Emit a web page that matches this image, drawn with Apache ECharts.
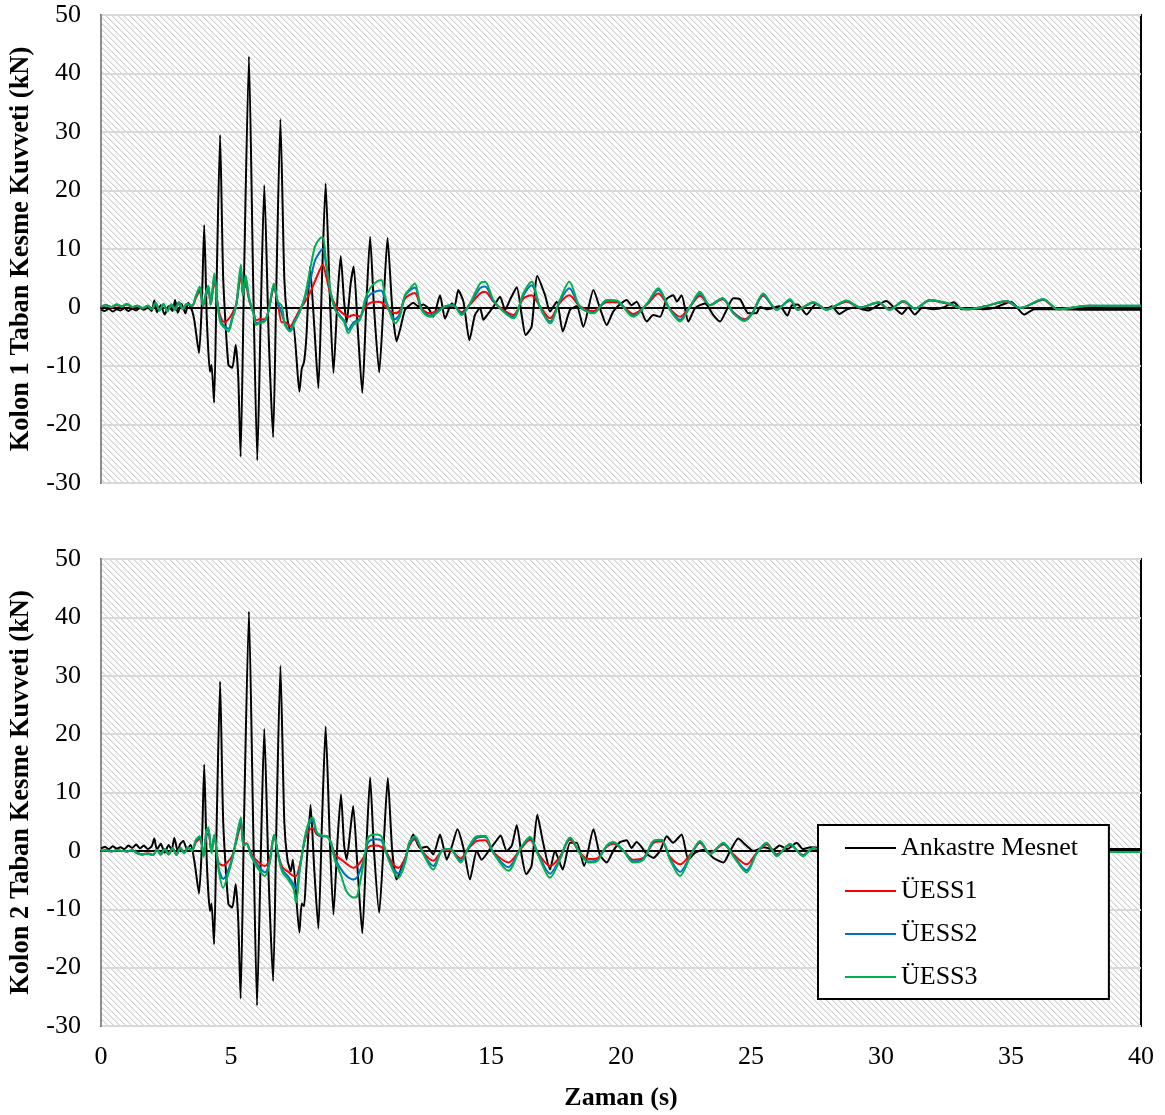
<!DOCTYPE html>
<html>
<head>
<meta charset="utf-8">
<script src="https://cdn.jsdelivr.net/npm/echarts@6/dist/echarts.min.js"></script>
<style>
  html, body { margin: 0; padding: 0; background: #fff; }
  #chart { width: 1165px; height: 1115px; }
</style>
</head>
<body>
<div id="chart"></div>
<script>
// ---- Time (s) and base shear (kN) records ----
const SERIES_NAMES = ['Ankastre Mesnet', 'ÜESS1', 'ÜESS2', 'ÜESS3'];
const Y_TITLES = ['Kolon 1 Taban Kesme Kuvveti (kN)', 'Kolon 2 Taban Kesme Kuvveti (kN)'];
const X_TITLE = 'Zaman (s)';

// Kolon 1 — fixed base
const fixed1T = [0,0.15,0.3,0.45,0.6,0.75,0.9,1.05,1.2,1.35,1.5,1.65,1.8,1.95,2.05,2.15,2.3,2.45,2.6,2.75,2.85,2.95,3.1,3.25,3.35,3.5,3.6,3.77,3.88,3.97,4.07,4.19,4.25,4.35,4.45,4.58,4.7,4.9,5.05,5.18,5.28,5.37,5.5,5.69,5.85,6.01,6.15,6.28,6.45,6.62,6.75,6.9,7.05,7.17,7.3,7.4,7.63,7.72,7.81,7.9,8.04,8.2,8.36,8.5,8.64,8.8,8.94,9.1,9.22,9.35,9.45,9.6,9.72,9.88,10.05,10.2,10.35,10.5,10.7,10.87,11.02,11.2,11.37,11.5,11.69,11.85,12.01,12.2,12.4,12.59,12.78,13.04,13.23,13.49,13.6,13.74,13.94,14.17,14.38,14.58,14.71,14.9,15.09,15.35,15.54,15.73,15.99,16.18,16.33,16.56,16.78,17.08,17.27,17.53,17.76,18.04,18.3,18.55,18.94,19.19,19.45,19.7,19.95,20.22,20.4,20.6,20.99,21.24,21.5,21.76,22.01,22.15,22.33,22.59,22.85,23.23,23.55,23.81,24.05,24.32,24.58,24.9,25.2,25.35,25.6,26.1,26.4,26.56,26.8,27.14,27.5,27.9,28.1,28.4,28.7,29,29.5,30.2,30.5,30.8,31.05,31.3,31.6,32,32.4,32.8,33.1,33.6,34,34.4,35,35.5,35.9,36.4,37,38,39,40];
const fixed1V = [-0.3,-0.6,-0.2,-0.7,-0.3,-0.5,-0.1,-0.6,-0.2,-0.5,-0.1,-0.4,0,-0.6,1.2,-0.8,0.4,-1.2,0.2,-0.6,1.3,-0.9,0.6,-1,0.8,-0.5,-2.5,-7.8,1,14.1,-2,-11,-9.8,-16.3,5,29.5,5,-9.8,-10.3,-6.4,-12,-25.5,5,42.9,5,-26.1,0,20.9,-5,-22.2,5,32.2,5,-2,-4,-3,-14.4,-10.5,-9.3,-5,7,-3,-13.8,5,21.2,2,-11.2,2,8.8,1,-2.5,4,7,-4,-14.6,0,12.1,0,-11.1,1,11.9,0,-5.8,-3.8,-0.4,0.3,0.8,0.2,0.5,-0.1,-1.6,2.1,-1.9,0.7,0.2,3,1,-5.6,-1.3,-0.1,-2.1,-1,0.1,1.85,-0.4,1.3,3.45,-1.3,-4.7,-3.3,5.4,2.1,-0.7,1,-4.1,-0.4,0.2,-3.3,3,-0.1,-3,-0.7,0.5,1.3,0.4,1,-2.4,-1.3,-1.6,1.5,2.1,1,2.1,-2.4,-0.1,0.7,-1.3,-2.4,-0.5,1.6,1.4,-1,-1,0.1,-0.3,0.2,-1.4,0.3,0.5,-1.2,0.6,-0.3,0.2,-1.1,-0.3,0,-0.5,1.1,0,-1.1,0,-1.2,0,-0.3,0,0.9,-0.3,-0.2,-0.3,0,1,-1.2,-0.3,-0.3,-0.3,-0.4,-0.4,-0.4];

// Kolon 1 — isolated bases (shared time steps)
const iso1T = [0,0.2,0.4,0.6,0.8,1,1.2,1.4,1.6,1.8,1.95,2.1,2.25,2.4,2.55,2.7,2.85,3,3.15,3.3,3.5,3.65,3.8,3.92,4.05,4.13,4.22,4.36,4.48,4.6,4.75,4.9,5.05,5.2,5.38,5.46,5.56,5.7,5.88,5.96,6.1,6.3,6.45,6.65,6.8,6.95,7.08,7.27,7.45,7.65,7.85,8.04,8.23,8.42,8.53,8.65,8.81,9,9.19,9.35,9.51,9.7,9.96,10.15,10.35,10.6,10.78,10.92,11.12,11.31,11.5,11.69,11.88,12.07,12.33,12.65,12.9,13.23,13.55,13.87,14.19,14.58,14.77,15.09,15.47,15.86,16.24,16.56,16.88,17.27,17.65,18.01,18.42,18.94,19.45,19.83,20.47,21,21.43,21.88,22.27,22.65,23.04,23.42,23.9,24.32,24.75,25.05,25.47,25.99,26.5,26.8,27.4,27.9,28.68,29.2,29.9,30.33,30.86,31.3,31.88,32.5,33.3,34,34.83,35.35,36.24,36.8,37.4,38,39,40];
const iso1R = [0.1,0.4,0,0.4,0.1,0.5,0,0.3,-0.2,0.3,-0.3,0.7,-0.4,0.5,-0.6,0.4,-0.3,0.8,-0.3,0.6,0.2,1.6,2.8,0.2,2.2,2.9,0.6,4.5,0.9,-1.6,-2.5,-2,-1,0.5,5.5,2.2,4,1.2,-1,-2.2,-2,-2,-0.4,3.2,0.8,-2.5,-2.5,-3.2,-2,-0.3,1,2.5,4.5,6.5,7.3,5.5,2.5,0.5,-0.6,-1.2,-1.6,-1.3,-1.5,0,0.8,1,0.9,0.3,-0.6,-1,-0.5,1.5,2.2,2.5,-0.2,-1,-0.6,0.1,0.3,-0.8,0.5,2.4,2.7,1,-0.4,-1.3,1.5,2.1,0.2,-1.85,0.8,2.1,0.2,-0.6,0.9,0.9,-1.1,0.5,2.4,-0.2,-1.6,0.1,2,0.4,1.4,-0.8,-2,-0.9,2,-0.3,1.2,-0.3,0.8,-0.3,1,0,0.8,-0.3,1,-0.2,1.2,0.7,-0.3,0.2,1,-0.1,1.3,-0.3,0,0.3,0.2,0.2];
const iso1B = [0.2,0.4,0.1,0.5,0.2,0.6,0.1,0.3,-0.1,0.3,-0.3,0.8,-0.5,0.6,-0.6,0.5,-0.4,0.9,-0.3,0.6,0.3,1.9,3.4,0.3,2.6,3.5,0.5,5.4,0.6,-2.3,-3.2,-3.6,-1.7,0.4,6.6,2.1,5,1.4,-1.2,-2.7,-2.5,-2.2,-0.5,3.8,0.9,-1,-2.8,-3.8,-2.3,-0.6,1.8,4.5,8,9.5,10,7.5,3,-0.2,-1.4,-2.2,-3.8,-2.6,-1.9,0.8,2.2,2.8,2.9,1.3,-0.8,-2,-1,2,2.9,3.4,-0.3,-1.4,-0.8,0.2,0.4,-1.1,0.6,3.3,3.6,1.2,-0.6,-1.6,2,3.8,0.1,-2.4,1.1,3.3,0.1,-0.9,1.2,1.1,-1.4,0.6,3,-0.3,-2.1,0.1,2.4,0.4,1.6,-0.9,-2.2,-1,2.2,-0.4,1.3,-0.4,0.9,-0.4,1.1,0,0.9,-0.4,1.1,-0.2,1.3,0.8,-0.3,0.2,1.1,-0.1,1.4,-0.3,0,0.3,0.3,0.3];
const iso1G = [0.2,0.4,0.1,0.5,0.2,0.6,0.1,0.3,-0.1,0.3,-0.3,0.8,-0.5,0.6,-0.7,0.5,-0.4,0.9,-0.2,0.6,0.3,2,3.6,0.3,2.8,3.7,0.5,5.8,0.5,-2.7,-3.5,-4.1,-2,0.4,7.3,2.1,5.5,1.5,-1.3,-3,-2.7,-2.4,-0.5,4.1,1,0.3,-3,-4.1,-2.5,-0.7,2.1,6.4,10.4,11.8,12,8.1,3.2,-0.3,-1.6,-2.5,-4.4,-3,-2.1,1.3,3.3,4.4,4.7,2,-1,-2.7,-1.5,2.1,3.2,4.1,-0.4,-1.6,-1,0.2,0.4,-1.3,0.7,4.1,4.4,1.3,-0.7,-1.85,2.4,4.4,0.1,-2.7,1.3,4.4,0.1,-1,1.3,1.2,-1.6,0.7,3.3,-0.4,-2.4,0.1,2.7,0.4,1.6,-1,-2.3,-1,2.4,-0.4,1.4,-0.4,0.9,-0.4,1.2,0,0.9,-0.4,1.1,-0.2,1.3,0.8,-0.3,0.2,1.1,-0.1,1.4,-0.3,0,0.3,0.3,0.3];

// Kolon 2 — fixed base
const fixed2T = [0,0.15,0.3,0.45,0.6,0.75,0.9,1.05,1.2,1.35,1.5,1.65,1.8,1.95,2.05,2.15,2.3,2.45,2.6,2.72,2.82,2.95,3.05,3.17,3.3,3.45,3.6,3.77,3.88,3.97,4.07,4.19,4.25,4.35,4.45,4.58,4.7,4.9,5.05,5.18,5.28,5.37,5.5,5.69,5.85,6,6.15,6.28,6.45,6.62,6.75,6.9,7.05,7.17,7.3,7.38,7.63,7.72,7.81,7.9,8.06,8.2,8.36,8.5,8.64,8.8,8.94,9.1,9.23,9.35,9.45,9.6,9.7,9.88,10.05,10.2,10.35,10.5,10.7,10.87,11.03,11.2,11.37,11.56,11.69,12.01,12.27,12.53,12.78,13.04,13.3,13.49,13.71,13.94,14.19,14.45,14.64,14.96,15.15,15.37,15.6,15.8,15.99,16.18,16.35,16.56,16.78,17,17.27,17.46,17.76,18.04,18.3,18.58,18.94,19.19,19.45,19.7,19.96,20.22,20.4,20.6,20.99,21.24,21.5,21.76,22,22.33,22.59,22.85,23.2,23.55,23.94,24.2,24.51,24.8,25.1,25.5,25.86,26.1,26.4,26.76,27,27.3,27.6,28.2,28.8,29.4,30,30.6,31.2,31.8,32.5,33.2,34,34.8,35.5,36.3,37,37.8,38.7,39.5,40];
const fixed2V = [0.4,0.7,0.3,0.8,0.4,0.6,0.3,0.9,0.5,1.1,0.4,0.9,0.3,0.8,2.1,0.2,1.2,-0.3,1,0.2,2.2,0,1.2,1.7,0.3,1,-2,-7.3,1,14.8,-2,-10.3,-9,-16,5,29,5,-9.1,-9.7,-5.7,-12,-25.3,5,41,5,-26.5,0,20.9,-5,-22.3,5,31.7,5,-1.5,-3.5,-1.5,-14,-9,-9.5,-3,7.9,-3,-13.3,5,21.3,2,-10.9,2,9.7,1,-1.5,4,7.7,-4,-14.1,0,12.6,0,-10.6,1,12.5,0,-4.9,-2.9,-1.5,2.8,0.5,0.7,-0.6,2.8,-1.5,0.7,3.7,0.5,-4.9,0,-1.5,0.3,1.4,2.65,0,0.9,4.4,-0.8,-4,-2.6,6.2,1.5,-3.2,0,-3.2,1.4,1.4,-2.6,3.7,-0.7,-2,0,1.5,1.8,0.5,1.5,-0.5,-1.2,0,2.5,1.4,2.8,-1.5,-0.3,0.2,-1.2,-2,0,2.1,1,0,0.6,0.2,0.9,0.3,1.4,0.3,0.6,0.5,-0.8,0.6,-0.6,0.8,-0.7,0.6,-0.5,0.7,-0.4,0.6,-0.3,0.5,-0.2,0.4,0.2,0.3,0.3,0.3];

// Kolon 2 — isolated bases (shared time steps)
const iso2T = [0,0.2,0.4,0.6,0.8,1,1.2,1.4,1.6,1.8,2,2.15,2.3,2.45,2.6,2.75,2.9,3.05,3.2,3.35,3.5,3.65,3.8,3.95,4.05,4.13,4.25,4.36,4.52,4.7,4.85,5.05,5.2,5.38,5.48,5.6,5.78,6.07,6.3,6.48,6.66,6.82,6.98,7.2,7.41,7.5,7.65,7.85,8,8.14,8.3,8.5,8.68,8.84,8.99,9.24,9.44,9.71,9.85,10.09,10.28,10.53,10.78,10.97,11.24,11.44,11.7,11.85,12.07,12.4,12.78,13.1,13.42,13.83,14.12,14.45,14.77,15.09,15.67,16.12,16.5,16.83,17.27,17.65,18.04,18.42,18.75,19.07,19.45,19.71,20.1,20.47,20.86,21.24,21.56,21.88,22.27,22.72,23.04,23.42,23.94,24.32,24.83,25.22,25.6,25.99,26.5,27,27.4,28,28.7,29.4,30.1,30.8,31.5,32.2,33,33.8,34.6,35.4,36.2,37,38,38.7,39.5,40];
const iso2R = [0,0.1,-0.1,0.1,0,-0.1,0.1,-0.4,-0.6,-0.4,-0.7,0.2,-0.6,0.3,-0.5,0.4,-0.6,0.5,-0.3,0.5,0,1.5,2,-0.4,2.5,3,0,2.5,-2,-2.5,-2,-0.8,1.5,4.5,1.2,1.3,-0.5,-2,-2.6,-1.5,2.5,-0.7,-2.8,-3.6,-4.3,-4.3,-2.3,2,3.5,3.9,2.8,2.5,2.5,1.5,-0.6,-1.5,-2.2,-2.9,-2.6,-1.2,0.6,0.9,0.7,-0.2,-2.3,-2.9,-1.2,0.8,2,-0.3,-1.7,-0.1,0.2,-1.3,0.3,1.7,1.8,-0.2,-2,0.2,1.9,-0.5,-2.6,-1,1.9,-0.3,-1.4,-1.3,0.7,1.2,0,-1.5,-1.2,1.3,1.6,-1,-2.3,-0.3,1.4,-0.4,1.1,-0.6,-2.3,-0.3,1.1,-0.6,1,-0.7,0.4,-0.3,0.6,-0.5,0.5,-0.4,0.5,-0.4,0.4,-0.3,0.3,-0.3,0.3,-0.2,0,-0.2,-0.2,-0.2];
const iso2B = [0,0.1,-0.1,0.1,0,-0.1,0.1,-0.4,-0.6,-0.5,-0.7,0.2,-0.6,0.3,-0.6,0.5,-0.7,0.5,-0.4,0.6,0,1.8,2.3,-0.8,3.2,3.7,-0.2,2.7,-2.8,-4.8,-3.8,-1.2,1.8,5.2,1,1.2,-0.7,-2.7,-3.7,-2,2.7,-0.8,-3.3,-4.4,-5.8,-6.5,-2.8,2.3,4.5,5.2,3,2.5,2.5,1.4,-1.1,-3.2,-4.3,-4.9,-4.5,-1.8,1.5,2,1.8,-0.3,-3,-3.9,-1.6,1.1,2.3,-0.5,-2.6,0,0.3,-1.7,0.4,2.2,2.4,-0.3,-2.8,0.3,2.2,-0.7,-3.9,-1.3,2.2,-0.4,-1.8,-1.6,0.8,1.4,0,-1.8,-1.4,1.5,1.8,-1.3,-3.6,-0.4,1.6,-0.5,1.3,-0.8,-3.3,-0.4,1.3,-0.8,1.1,-0.8,0.5,-0.4,0.7,-0.6,0.6,-0.5,0.5,-0.4,0.4,-0.3,0.3,-0.3,0.3,-0.2,0,-0.2,-0.2,-0.2];
const iso2G = [0,0.1,-0.1,0.1,0,-0.1,0.1,-0.4,-0.6,-0.5,-0.7,0.2,-0.6,0.3,-0.6,0.5,-0.7,0.5,-0.4,0.6,0,1.9,2.5,-1,3.5,4,-0.4,2.8,-3.2,-6.3,-4.6,-1.5,2,5.7,0.9,1.2,-1,-3.2,-4.3,-2.3,2.8,-0.9,-3.7,-4.9,-6.6,-8.9,-3.2,2.5,5,5.7,3.2,2.6,2.5,1.4,-1.5,-4.3,-6.9,-8,-7.8,-2.3,2.3,2.8,2.5,-0.4,-3.4,-4.6,-2,1.4,2.5,-0.6,-3.2,0,0.3,-2,0.5,2.5,2.6,-0.4,-3.4,0.3,2.4,-0.9,-4.6,-1.5,2.3,-0.4,-2,-1.8,0.9,1.5,0,-2,-1.5,1.7,1.9,-1.5,-4.3,-0.4,1.7,-0.6,1.4,-0.9,-3.7,-0.4,1.4,-0.9,1.2,-0.9,0.5,-0.4,0.7,-0.6,0.6,-0.5,0.5,-0.4,0.4,-0.3,0.3,-0.3,0.3,-0.2,0,-0.2,-0.2,-0.2];

// Axis ranges
const X_MIN = 0, X_MAX = 40, X_STEP = 5;
const Y_MIN = -30, Y_MAX = 50, Y_STEP = 10;

const COLORS = ['#000000', '#ff0000', '#0070c0', '#00b050'];
const FONT = 'Liberation Serif';

const pairs = (t, v) => t.map((x, i) => [x, v[i]]);

// Light diagonal hatch used as the plot-area fill
function hatchPattern() {
  const n = 6;
  const c = document.createElement('canvas');
  c.width = n; c.height = n;
  const ctx = c.getContext('2d');
  const img = ctx.createImageData(n, n);
  for (let y = 0; y < n; y++) {
    for (let x = 0; x < n; x++) {
      const d = ((x - y) % n + n) % n;
      const g = d === 0 ? 208 : (d === 1 ? 234 : 255);
      const k = (y * n + x) * 4;
      img.data[k] = g; img.data[k + 1] = g; img.data[k + 2] = g; img.data[k + 3] = 255;
    }
  }
  ctx.putImageData(img, 0, 0);
  return { image: c, repeat: 'repeat' };
}

const chart = echarts.init(document.getElementById('chart'), null, { renderer: 'canvas' });
const hatch = hatchPattern();

const gridDefs = [
  { left: 101, top: 15, width: 1040, height: 468 },
  { left: 101, top: 559, width: 1040, height: 467 }
];

const panels = [
  { fixed: pairs(fixed1T, fixed1V), iso: [pairs(iso1T, iso1R), pairs(iso1T, iso1B), pairs(iso1T, iso1G)] },
  { fixed: pairs(fixed2T, fixed2V), iso: [pairs(iso2T, iso2R), pairs(iso2T, iso2B), pairs(iso2T, iso2G)] }
];

// Series are pushed black → red → blue → green so green ends up on top
const series = [];
panels.forEach((p, i) => {
  const all = [p.fixed].concat(p.iso);
  all.forEach((d, k) => {
    series.push({
      name: SERIES_NAMES[k],
      type: 'line',
      xAxisIndex: i,
      yAxisIndex: i,
      data: d,
      symbol: 'none',
      smooth: k === 0 ? 0.2 : 0.3,
      z: 2,
      lineStyle: { color: COLORS[k], width: 2 },
      itemStyle: { color: COLORS[k] },
      animation: false
    });
  });
});

const option = {
  backgroundColor: '#ffffff',
  animation: false,
  grid: gridDefs.map(g => Object.assign({
    show: true,
    backgroundColor: hatch,
    borderColor: '#000000',
    borderWidth: 2,
    containLabel: false
  }, g)),
  xAxis: gridDefs.map((g, i) => ({
    type: 'value',
    gridIndex: i,
    min: X_MIN, max: X_MAX, interval: X_STEP,
    name: i === 1 ? X_TITLE : '',
    nameLocation: 'middle',
    nameGap: 59,
    nameTextStyle: { fontFamily: FONT, fontSize: 26, fontWeight: 'bold', color: '#000' },
    axisLine: { show: true, lineStyle: { color: '#000', width: 2 } },
    axisTick: { show: false },
    splitLine: { show: false },
    axisLabel: { show: i === 1, margin: 18, fontFamily: FONT, fontSize: 26, color: '#000' }
  })),
  yAxis: gridDefs.map((g, i) => ({
    type: 'value',
    gridIndex: i,
    min: Y_MIN, max: Y_MAX, interval: Y_STEP,
    name: Y_TITLES[i],
    nameLocation: 'middle',
    nameGap: 66,
    nameTextStyle: { fontFamily: FONT, fontSize: 26.5, fontWeight: 'bold', color: '#000' },
    axisLine: { show: true, lineStyle: { color: '#8c8c8c', width: 2 } },
    axisTick: { show: false },
    splitLine: { show: true, lineStyle: { color: '#d9d9d9', width: 2 } },
    axisLabel: { margin: 20, fontFamily: FONT, fontSize: 26, color: '#000' }
  })),
  legend: {
    show: true,
    z: 20,
    data: SERIES_NAMES.map(n => ({ name: n, icon: 'rect' })),
    orient: 'vertical',
    left: 818,
    top: 825,
    padding: [10, 31, 9, 27],
    itemWidth: 51,
    itemHeight: 2,
    itemGap: 17,
    backgroundColor: '#ffffff',
    borderColor: '#000000',
    borderWidth: 2,
    borderRadius: 0,
    selectedMode: false,
    textStyle: { fontFamily: FONT, fontSize: 26, lineHeight: 26, color: '#000' }
  },
  series: series
};

chart.setOption(option);
</script>
</body>
</html>
